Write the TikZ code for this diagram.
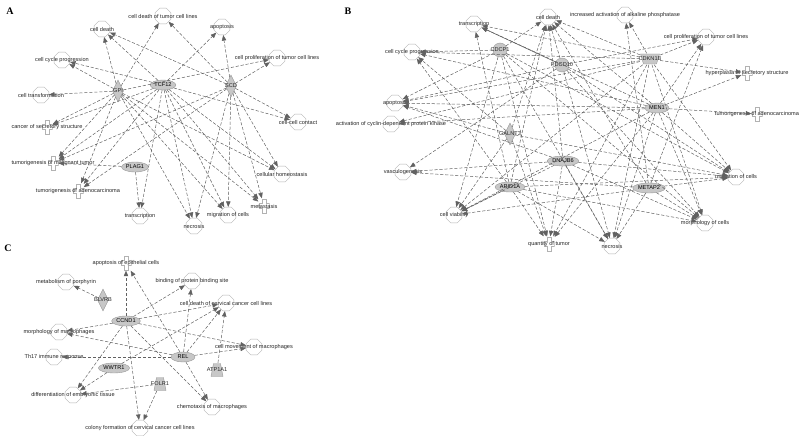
\documentclass[tikz,border=0pt]{standalone}
\usepackage{fontspec}
\setmainfont{Liberation Sans}
\newfontfamily\panelfont{Liberation Serif}
\usetikzlibrary{shapes.geometric,arrows.meta}

\definecolor{shapeline}{gray}{0.70}
\definecolor{molfill}{gray}{0.78}
\definecolor{moldraw}{gray}{0.60}
\definecolor{linkgray}{gray}{0.38}

\tikzstyle{lbl}=[font=\fontsize{5.6}{6}\selectfont,text=black!85,inner sep=0pt]
\tikzstyle{panel}=[font=\panelfont\bfseries\fontsize{10}{11}\selectfont,inner sep=0pt]
\tikzstyle{fn}=[draw=shapeline,regular polygon,regular polygon sides=8,minimum size=17pt,inner sep=0pt]
\tikzstyle{disease}=[rectangle,minimum width=11pt,minimum height=15pt,inner sep=0pt,
  path picture={\draw[shapeline,line width=0.5pt,shift={(path picture bounding box.center)}]
  (-2pt,-7pt) -- (2pt,-7pt) -- (2pt,-2.5pt) -- (5pt,-2.5pt) -- (5pt,2.5pt) -- (2pt,2.5pt)
  -- (2pt,7pt) -- (-2pt,7pt) -- (-2pt,2.5pt) -- (-5pt,2.5pt) -- (-5pt,-2.5pt) -- (-2pt,-2.5pt) -- cycle;}]
\tikzstyle{enz}=[diamond,draw=moldraw,fill=molfill,minimum width=11pt,minimum height=22pt,inner sep=0pt]
\tikzstyle{trreg}=[ellipse,draw=moldraw,fill=molfill,minimum width=24pt,minimum height=10pt,inner sep=0.5pt,font=\fontsize{5.6}{6}\selectfont]
\tikzstyle{oth}=[circle,draw=moldraw,fill=molfill,minimum size=14pt,inner sep=0pt]
\tikzstyle{trans}=[rectangle,minimum width=13pt,minimum height=14pt,inner sep=0pt,
  path picture={\filldraw[draw=moldraw,fill=molfill,line width=0.4pt,shift={(path picture bounding box.center)}]
  (-6pt,-6.5pt) -- (6pt,-6.5pt) -- (3.5pt,6.5pt) -- (-3.5pt,6.5pt) -- cycle;}]
\tikzstyle{kin}=[rectangle,minimum width=20pt,minimum height=11pt,inner sep=0pt,
  path picture={\filldraw[draw=moldraw,fill=molfill,line width=0.4pt,shift={(path picture bounding box.center)}]
  (-9.5pt,5pt) -- (9.5pt,5pt) -- (6.5pt,-5pt) -- (-6.5pt,-5pt) -- cycle;}]
\tikzstyle{link}=[draw=linkgray,line width=0.5pt,dash pattern=on 3.2pt off 1.8pt,-{Triangle[length=5.5pt,width=4.4pt]}]
\tikzstyle{solidlink}=[draw=black!65,line width=0.55pt,-{Triangle[length=5.5pt,width=4.4pt]}]

\begin{document}
\begin{tikzpicture}[x=1pt,y=-1pt]
  \useasboundingbox (0,0) rectangle (800,436);

  % panel A
  \node (pA)[panel] at (10,11) {A};
  \node (a1)[fn,label={[lbl]center:cell death}] at (102,29) {};
  \node (a2)[fn,label={[lbl]center:cell death of tumor cell lines}] at (163,16) {};
  \node (a3)[fn,label={[lbl]center:apoptosis}] at (222,27) {};
  \node (a4)[fn,label={[lbl]center:cell proliferation of tumor cell lines}] at (277,58) {};
  \node (a5)[fn,label={[lbl]center:cell cycle progression}] at (62,60) {};
  \node (a6)[fn,label={[lbl]center:cell transformation}] at (41,95) {};
  \node (a7)[fn,label={[lbl]center:cell-cell contact}] at (298,122) {};
  \node (a8)[disease,label={[lbl]center:cancer of secretory structure}] at (47,127) {};
  \node (a9)[disease,label={[lbl]center:tumorigenesis of malignant tumor}] at (53,163) {};
  \node (a10)[disease,label={[lbl]center:tumorigenesis of adenocarcinoma}] at (78,191) {};
  \node (a11)[fn,label={[lbl]center:cellular homeostasis}] at (282,174) {};
  \node (a12)[disease,label={[lbl]center:metastasis}] at (264,206) {};
  \node (a13)[fn,label={[lbl]center:transcription}] at (140,216) {};
  \node (a14)[fn,label={[lbl]center:necrosis}] at (194,226) {};
  \node (a15)[fn,label={[lbl]center:migration of cells}] at (228,215) {};

  \node (gpi)[enz,label={[lbl]center:GPI}] at (118,91) {};
  \node (tcf)[trreg] at (163,85) {TCF12};
  \node (scd)[enz,label={[lbl]center:SCD}] at (231,86) {};
  \node (plag)[trreg] at (135,167) {PLAG1};

  \foreach \t in {a1,a2,a4,a5,a6,a8,a9,a10,a11,a12,a14,a15}
    \draw[link] (gpi) -- (\t);
  \foreach \t in {a1,a3,a5,a7,a8,a9,a10,a11,a12,a13,a14,a15}
    \draw[link] (tcf) -- (\t);
  \foreach \t in {a1,a2,a3,a4,a7,a9,a10,a11,a12,a14,a15}
    \draw[link] (scd) -- (\t);
  \foreach \t in {a9,a13}
    \draw[link] (plag) -- (\t);

  % panel B
  \node (pB)[panel] at (348,11) {B};
  \node (b1)[fn,label={[lbl]center:transcription}] at (474,24) {};
  \node (b2)[fn,label={[lbl]center:cell death}] at (548,17) {};
  \node (b3)[fn,label={[lbl]center:increased activation of alkaline phosphatase}] at (625,15) {};
  \node (b4)[fn,label={[lbl]center:cell proliferation of tumor cell lines}] at (706,37) {};
  \node (b5)[fn,label={[lbl]center:cell cycle progression}] at (412,52) {};
  \node (b6)[fn,label={[lbl]center:apoptosis}] at (395,103) {};
  \node (b7)[fn,label={[lbl]center:activation of cyclin-dependent protein kinase}] at (391,124) {};
  \node (b8)[fn,label={[lbl]center:vasculogenesis}] at (403,172) {};
  \node (b9)[fn,label={[lbl]center:cell viability}] at (454,215) {};
  \node (b10)[disease,label={[lbl]center:hyperplasia of secretory structure}] at (747,73) {};
  \node (b11)[disease,label={[lbl]center:tumorigenesis of adenocarcinoma}] at (757,114) {};
  \node (b12)[fn,label={[lbl]center:migration of cells}] at (736,177) {};
  \node (b13)[fn,label={[lbl]center:morphology of cells}] at (705,223) {};
  \node (b14)[fn,label={[lbl]center:necrosis}] at (612,246) {};
  \node (b15)[disease,label={[lbl]center:quantity of tumor}] at (549,244) {};

  \node (cdcp)[oth,label={[lbl]center:CDCP1}] at (500,50) {};
  \node (pdcd)[oth,label={[lbl]center:PDCD10}] at (562,65) {};
  \node (cdkn)[kin,label={[lbl]center:CDKN1B}] at (650,59) {};
  \node (men)[trreg] at (657,108) {MEN1};
  \node (galnt)[enz,label={[lbl]center:GALNT3}] at (510,134) {};
  \node (dnaj)[trreg] at (563,161) {DNAJB6};
  \node (arid)[trreg] at (510,187) {ARID1A};
  \node (metap)[trreg,minimum width=20pt] at (649,188) {METAP2};

  \draw[solidlink] (pdcd) -- (b1);
  \foreach \t in {b2,b5,b6,b9,b12,b13,b14,b15}
    \draw[link] (cdcp) -- (\t);
  \foreach \t in {b2,b4,b6,b8,b12,b13,b14}
    \draw[link] (pdcd) -- (\t);
  \foreach \t in {b1,b2,b3,b4,b5,b6,b7,b9,b10,b12,b13,b14,b15}
    \draw[link] (cdkn) -- (\t);
  \foreach \t in {b1,b2,b4,b5,b6,b7,b9,b10,b11,b12,b13,b14,b15}
    \draw[link] (men) -- (\t);
  \foreach \t in {b2,b5,b6,b9,b12,b15}
    \draw[link] (galnt) -- (\t);
  \foreach \t in {b2,b6,b8,b9,b12,b13,b14,b15}
    \draw[link] (dnaj) -- (\t);
  \foreach \t in {b1,b2,b5,b9,b12,b13,b14,b15}
    \draw[link] (arid) -- (\t);
  \foreach \t in {b2,b3,b4,b8,b9,b12,b13,b14}
    \draw[link] (metap) -- (\t);

  % panel C
  \node (pC)[panel] at (8,248) {C};
  \node (c1)[disease,label={[lbl]center:apoptosis of epithelial cells}] at (126,263) {};
  \node (c2)[fn,label={[lbl]center:metabolism of porphyrin}] at (66,282) {};
  \node (c3)[fn,label={[lbl]center:binding of protein binding site}] at (192,281) {};
  \node (c4)[fn,label={[lbl]center:cell death of cervical cancer cell lines}] at (226,303) {};
  \node (c5)[fn,label={[lbl]center:morphology of macrophages}] at (59,332) {};
  \node (c6)[fn,label={[lbl]center:cell movement of macrophages}] at (254,347) {};
  \node (c7)[fn,label={[lbl]center:Th17 immune response}] at (54,357) {};
  \node (c8)[fn,label={[lbl]center:differentiation of embryonic tissue}] at (73,395) {};
  \node (c9)[fn,label={[lbl]center:chemotaxis of macrophages}] at (212,407) {};
  \node (c10)[fn,label={[lbl]center:colony formation of cervical cancer cell lines}] at (140,428) {};

  \node (blvrb)[enz,label={[lbl]center:BLVRB}] at (103,300) {};
  \node (ccnd)[trreg] at (126,321) {CCND1};
  \node (rel)[trreg] at (183,357) {REL};
  \node (atp)[trans,label={[lbl]center:ATP1A1}] at (217,370) {};
  \node (wwtr)[trreg] at (114,368) {WWTR1};
  \node (folr)[trans,label={[lbl]center:FOLR1}] at (160,384) {};

  \draw[link] (blvrb) -- (c2);
  \foreach \t in {c1,c3,c4,c5,c6,c8,c9,c10}
    \draw[link] (ccnd) -- (\t);
  \foreach \t in {c1,c3,c4,c5,c6,c7,c9}
    \draw[link] (rel) -- (\t);
  \draw[link] (atp) -- (c4);
  \foreach \t in {c4,c8}
    \draw[link] (wwtr) -- (\t);
  \foreach \t in {c8,c10}
    \draw[link] (folr) -- (\t);
\end{tikzpicture}
\end{document}
